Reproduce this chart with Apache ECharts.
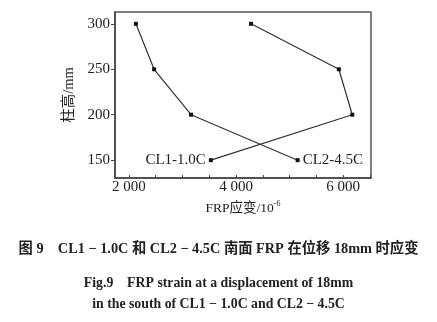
<!DOCTYPE html>
<html><head><meta charset="utf-8">
<script src="https://cdn.jsdelivr.net/npm/echarts@6/dist/echarts.min.js"></script>
<style>html,body{margin:0;padding:0;background:#fff}#c{width:437px;height:322px}</style>
</head><body><div id="c"></div>
<script>
const heights = [300, 250, 200, 150];
const cl1Strain = [4280, 5920, 6170, 3530];
const cl2Strain = [2130, 2470, 3160, 5150];
const seriesNames = ['CL1-1.0C', 'CL2-4.5C'];
const xTickLabels = [2000, 4000, 6000];
const xMinorTicks = [2000, 2500, 3000, 3500, 4000, 4500, 5000, 5500, 6000, 6500];
const yTickLabels = [150, 200, 250, 300];
const xName = 'FRP应变/10';
const yName = '柱高/mm';
const captions = [
  '图 9    CL1 − 1.0C 和 CL2 − 4.5C 南面 FRP 在位移 18mm 时应变',
  'Fig.9    FRP strain at a displacement of 18mm',
  'in the south of CL1 − 1.0C and CL2 − 4.5C'
];

const serif = '"Liberation Serif","DejaVu Serif","Noto Sans CJK SC",serif';
const chart = echarts.init(document.getElementById('c'), null, {renderer: 'canvas'});
function mk(vals, name, pos) {
  return vals.map((v, i) => {
    const d = {value: [v, heights[i]]};
    if (i === vals.length - 1) {
      d.label = {show: true, position: pos, formatter: name, distance: 3,
        fontFamily: serif, fontSize: 15, color: '#222'};
    }
    return d;
  });
}
chart.setOption({
  animation: false,
  grid: {left: 115, right: 66, top: 12, bottom: 144, show: true, borderColor: '#555', borderWidth: 1.5, backgroundColor: 'transparent'},
  title: captions.map((t, i) => ({
    text: t, left: 'center', top: [237, 272, 293][i],
    textStyle: {fontFamily: serif, fontSize: i === 0 ? 14.3 : 13.8, fontWeight: 'bold', color: '#222'}
  })),
  xAxis: {
    type: 'value', min: 1740, max: 6520,
    name: xName + '{s|-6}', nameLocation: 'middle', nameGap: 22,
    nameTextStyle: {fontFamily: serif, fontSize: 13.5, color: '#222', rich: {s: {fontSize: 8, verticalAlign: 'top', padding: [0, 0, 8, 0], fontFamily: serif}}},
    axisLine: {show: true, lineStyle: {color: '#444', width: 1.5}},
    axisTick: {show: true, inside: true, length: 3, customValues: xMinorTicks, lineStyle: {color: '#444'}},
    axisLabel: {customValues: xTickLabels, margin: 2, fontFamily: serif, fontSize: 15, color: '#222',
      formatter: v => String(v).replace(/\B(?=(\d{3})+(?!\d))/g, ' ')},
    splitLine: {show: false}
  },
  yAxis: {
    type: 'value', min: 130.4, max: 313,
    name: yName, nameLocation: 'middle', nameGap: 33, nameRotate: 90,
    nameTextStyle: {fontFamily: serif, fontSize: 14.5, color: '#222'},
    axisLine: {show: true, lineStyle: {color: '#444', width: 1.5}},
    axisTick: {show: true, inside: false, length: 4, customValues: yTickLabels, lineStyle: {color: '#444'}},
    axisLabel: {customValues: yTickLabels, margin: 5, fontFamily: serif, fontSize: 15, color: '#222'},
    splitLine: {show: false}
  },
  series: [
    {name: seriesNames[0], type: 'line', data: mk(cl1Strain, seriesNames[0], 'left'),
      symbol: 'rect', symbolSize: 4, itemStyle: {color: '#111'}, lineStyle: {color: '#333', width: 1.2}},
    {name: seriesNames[1], type: 'line', data: mk(cl2Strain, seriesNames[1], 'right'),
      symbol: 'rect', symbolSize: 4, itemStyle: {color: '#111'}, lineStyle: {color: '#333', width: 1.2}}
  ]
});
</script></body></html>
